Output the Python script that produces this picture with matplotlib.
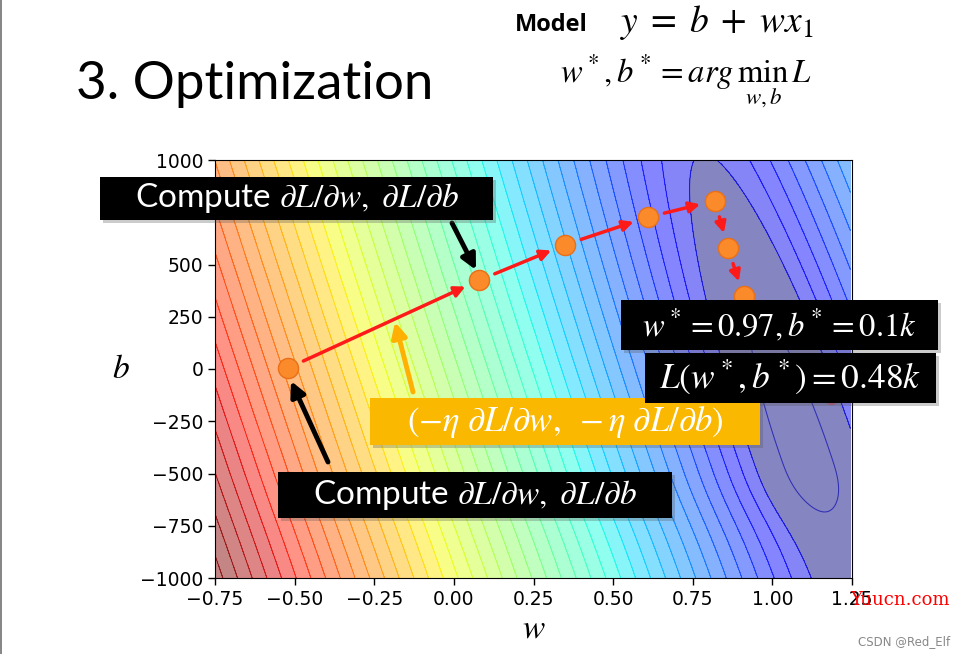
import numpy as np
import matplotlib.pyplot as plt
from matplotlib.patches import Rectangle
from matplotlib.colors import Normalize

plt.rcParams['mathtext.fontset'] = 'stix'

# gradient descent path (w, b)
path_w = [-0.52, 0.08, 0.35, 0.61, 0.82, 0.86, 0.91]
path_b = [5, 425, 595, 727, 805, 580, 350]

# laser pointer spot
laser_w, laser_b = 1.184, -134

# loss surface parameters (valley shaped)
valley_w_top = 0.79      # valley centre at b = 1000
valley_slope = 4500.0    # db/dw along valley
b_floor = -380.0
rise_up = 1.205e-4
rise_down, rise_scale = 0.13, 311.0

xticks = [-0.75, -0.5, -0.25, 0.0, 0.25, 0.5, 0.75, 1.0, 1.25]
yticks = [-1000, -750, -500, -250, 0, 250, 500, 750, 1000]

fig = plt.figure(figsize=(9.6, 6.54), dpi=100)
W_PX, H_PX = 960, 654


def fx(x):
    return x / W_PX


def fy(y):
    return 1 - y / H_PX


ax = fig.add_axes([fx(215), fy(578), fx(852) - fx(215), fy(160) - fy(578)])

w = np.linspace(-0.75, 1.245, 500)
b = np.linspace(-1000, 1000, 500)
Wg, Bg = np.meshgrid(w, b)
U = Wg - (valley_w_top + (1000 - Bg) / valley_slope)
T = Bg - b_floor
F = np.where(T > 0, rise_up * T, rise_down * (1 - np.exp(-(T / rise_scale) ** 2)))
Z = np.sqrt(U ** 2 + F ** 2)

L_in, L_dark, step = 0.08, 0.17, 0.046
upper = list(L_dark + step * np.arange(0, 48))
line_levels = [L_in] + upper
cmap = plt.get_cmap('jet').copy()
cmap.set_under(cmap(0.0))
norm = Normalize(vmin=0.0, vmax=1.95)
ax.contourf(Wg, Bg, Z, levels=upper, cmap=cmap, norm=norm, alpha=0.48, extend='min')
ax.contour(Wg, Bg, Z, levels=line_levels, cmap='jet', norm=norm,
           linewidths=0.75, alpha=0.65)

ax.set_xlim(-0.75, 1.25)
ax.set_ylim(-1000, 1000)
ax.set_xticks(xticks)
ax.set_yticks(yticks)
ax.xaxis.set_major_formatter(lambda v, p: ('%.2f' % v).replace('-', '\u2212'))
ax.yaxis.set_major_formatter(lambda v, p: '' if v == 750 else ('%d' % v).replace('-', '\u2212'))
ax.tick_params(labelsize=13.5, length=5, width=1)
ax.set_xlabel('$w$', fontsize=24, labelpad=2)
ax.set_ylabel('$b$', fontsize=24, rotation=0, va='center')
ax.yaxis.set_label_coords(-0.147, 0.50)

# red update arrows
for i in range(len(path_w) - 1):
    ax.annotate('', xy=(path_w[i + 1], path_b[i + 1]), xytext=(path_w[i], path_b[i]),
                arrowprops=dict(arrowstyle='-|>', color='#ff1a1a', lw=2.5,
                                shrinkA=12, shrinkB=11, mutation_scale=16))
ax.plot(path_w, path_b, 'o', ms=14.5, color='#fb8a2a', mec='#e87018', mew=1, zorder=5)

ax.plot(laser_w, laser_b, 'o', ms=10, color='#ff2020', alpha=0.3, zorder=6)
ax.plot(laser_w, laser_b, 'o', ms=6, color='#ff1010', mew=0, zorder=7)
ax.plot(laser_w, laser_b, 'o', ms=2.2, color='white', zorder=8)


# pointer arrows in pixel coordinates
def px_arrow(tail, head, color, lw):
    ax.annotate('', xy=(head[0], H_PX - head[1]), xytext=(tail[0], H_PX - tail[1]),
                xycoords='figure pixels', textcoords='figure pixels',
                arrowprops=dict(arrowstyle='-|>', color=color, lw=lw,
                                mutation_scale=22, shrinkA=0, shrinkB=0),
                annotation_clip=False)


px_arrow((452, 223), (476, 270), 'black', 3.5)
px_arrow((328, 462), (291, 381), 'black', 3.5)
px_arrow((413, 392), (395, 322), '#ffb000', 3.5)


def box(x0, y0, x1, y1, color, text, size):
    fig.patches.append(Rectangle((fx(x0) + 0.003, fy(y1) - 0.004), fx(x1 - x0), fy(y0) - fy(y1),
                                 transform=fig.transFigure, fc='#555555', alpha=0.3,
                                 ec='none', zorder=9))
    fig.patches.append(Rectangle((fx(x0), fy(y1)), fx(x1 - x0), fy(y0) - fy(y1),
                                 transform=fig.transFigure, fc=color, ec='none', zorder=10))
    fig.text(fx((x0 + x1) / 2), fy((y0 + y1) / 2), text, color='white', fontsize=size,
             ha='center', va='center', family='Lato', zorder=11)


compute = r'Compute $\partial L/\partial w,\ \partial L/\partial b$'
box(100, 177, 493, 220, 'black', compute, 24)
box(278, 472, 672, 518, 'black', compute, 24)
box(370, 398, 760, 445, '#fbb800',
    r'$(-\eta\ \partial L/\partial w,\ -\eta\ \partial L/\partial b)$', 25)
box(621, 300, 938, 350, 'black', r'$w^* = 0.97, b^* = 0.1k$', 23.5)
box(645, 353, 936, 403, 'black', r'$L(w^*, b^*) = 0.48k$', 25.5)

# slide text
fig.text(fx(76), fy(84), '3. Optimization', fontsize=38, family='Lato', va='center')
fig.text(fx(515), fy(25), 'Model', fontsize=17, family='Open Sans', weight='bold', va='center')
fig.text(fx(620), fy(22), r'$y\;=\;b\;+\;wx_1$', fontsize=27, va='center')
fig.text(fx(560), fy(82), r'$w^*, b^* = arg\,\min_{w,b}\,L$', fontsize=23.5, va='center')

# watermarks
fig.text(fx(850), fy(600), 'Yuucn.com', color='red', fontsize=13, family='DejaVu Serif',
         va='center', zorder=12)
fig.text(fx(858), fy(642), 'CSDN @Red_Elf', color='#888888', fontsize=8.5, va='center')
fig.patches.append(Rectangle((0, 0), 0.002, 1, transform=fig.transFigure, fc='#888888', ec='none'))

fig.savefig('out.png', dpi=100)
